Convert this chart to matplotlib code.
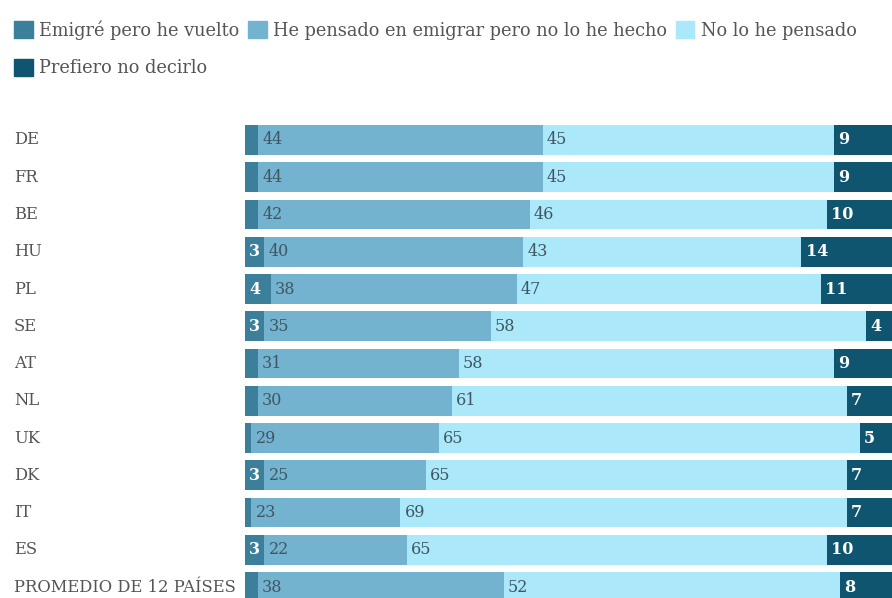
import matplotlib
matplotlib.use("Agg")
import matplotlib.pyplot as plt
from matplotlib.patches import Patch
import numpy as np

# data
countries = ["DE", "FR", "BE", "HU", "PL", "SE", "AT", "NL", "UK", "DK", "IT", "ES",
             "PROMEDIO DE 12 PAÍSES"]
emigre = [2, 2, 2, 3, 4, 3, 2, 2, 1, 3, 1, 3, 2]
pensado = [44, 44, 42, 40, 38, 35, 31, 30, 29, 25, 23, 22, 38]
no_pensado = [45, 45, 46, 43, 47, 58, 58, 61, 65, 65, 69, 65, 52]
prefiero = [9, 9, 10, 14, 11, 4, 9, 7, 5, 7, 7, 10, 8]

series_names = ["Emigré pero he vuelto", "He pensado en emigrar pero no lo he hecho",
                "No lo he pensado", "Prefiero no decirlo"]
colors = ["#3b7f9b", "#74b3cf", "#aae8fa", "#0f5570"]
label_colors = ["white", "#3f5663", "#3f5663", "white"]
label_weights = ["bold", "normal", "normal", "bold"]

FONT = "DejaVu Serif"
plt.rcParams["font.family"] = FONT

fig = plt.figure(figsize=(8.92, 5.98), dpi=100)
ax = fig.add_axes([245 / 892, 0, 647 / 892, (598 - 121) / 598])

y = np.arange(len(countries))
series = [emigre, pensado, no_pensado, prefiero]
left = np.zeros(len(countries))
for vals, col, lc, lw in zip(series, colors, label_colors, label_weights):
    vals = np.array(vals, dtype=float)
    ax.barh(y, vals, left=left, height=0.8, color=col, linewidth=0)
    for yi, (l, v) in enumerate(zip(left, vals)):
        if v >= 3:
            ax.annotate(f"{int(v)}", (l, yi), xytext=(3, 0), textcoords="offset points",
                        ha="left", va="center", color=lc, fontweight=lw, fontsize=11.5)
    left += vals

ax.set_xlim(0, 100)
ax.set_ylim(12.295, -0.51)
ax.set_xticks([])
ax.set_yticks(y)
ax.set_yticklabels(countries, fontsize=11.8, color="#555555")
for lab in ax.get_yticklabels():
    lab.set_ha("left")
    lab.set_va("center")
ax.tick_params(axis="y", length=0, pad=231 * 72 / 100)
for s in ax.spines.values():
    s.set_visible(False)

# legend: reorder so column-wise fill gives 3 on top row, 1 below
handles = [Patch(color=c) for c in colors]
order = [0, 3, 1, 2]
fig.legend([handles[i] for i in order], [series_names[i] for i in order],
           ncol=3, loc="upper left", bbox_to_anchor=(14 / 892, 1 - 20 / 598), frameon=False,
           borderpad=0, borderaxespad=0,
           fontsize=12.8, handlelength=1.05, handleheight=1.05, handletextpad=0.35,
           columnspacing=0.5, labelspacing=1.1, labelcolor="#555555")

fig.savefig("out.png", dpi=100)
